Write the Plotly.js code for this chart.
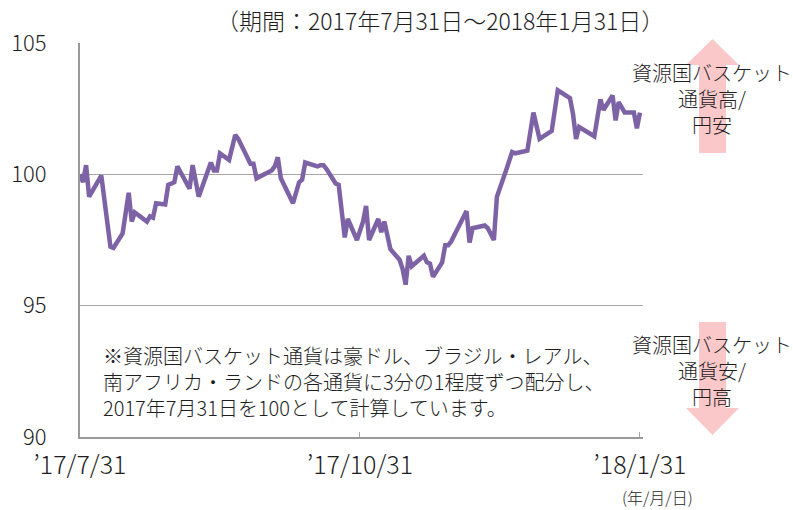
<!DOCTYPE html>
<html>
<head>
<meta charset="utf-8">
<script src="https://cdn.plot.ly/plotly-3.0.1.min.js"></script>
<style>
  html, body { margin: 0; padding: 0; background: #ffffff; }
  #chart { width: 793px; height: 510px; }
</style>
</head>
<body>
<div id="chart"></div>
<script>
// Resource-country basket currency index (2017-07-31 = 100)
const dates = [
  '2017-07-31','2017-08-01','2017-08-02','2017-08-03','2017-08-07','2017-08-10','2017-08-11','2017-08-14',
  '2017-08-16','2017-08-17','2017-08-18','2017-08-22','2017-08-23','2017-08-24','2017-08-25','2017-08-28',
  '2017-08-29','2017-08-31','2017-09-01','2017-09-05','2017-09-06','2017-09-08','2017-09-12','2017-09-13',
  '2017-09-14','2017-09-15','2017-09-18','2017-09-20','2017-09-21','2017-09-25','2017-09-26','2017-09-27',
  '2017-10-02','2017-10-03','2017-10-04','2017-10-05','2017-10-09','2017-10-11','2017-10-12','2017-10-13',
  '2017-10-17','2017-10-18','2017-10-19','2017-10-20','2017-10-23','2017-10-24','2017-10-26','2017-10-27',
  '2017-10-30','2017-11-01','2017-11-02','2017-11-03','2017-11-06','2017-11-07','2017-11-08','2017-11-10',
  '2017-11-13','2017-11-14','2017-11-15','2017-11-16','2017-11-17','2017-11-21','2017-11-22','2017-11-23',
  '2017-11-24','2017-11-27','2017-11-28','2017-11-29','2017-11-30','2017-12-05','2017-12-06','2017-12-07',
  '2017-12-11','2017-12-12','2017-12-14','2017-12-15','2017-12-18','2017-12-20','2017-12-21','2017-12-25',
  '2017-12-27','2017-12-29','2018-01-02','2018-01-04','2018-01-08','2018-01-09','2018-01-10','2018-01-11',
  '2018-01-16','2018-01-18','2018-01-19','2018-01-22','2018-01-23','2018-01-24','2018-01-26','2018-01-29',
  '2018-01-30','2018-01-31'
];
const values = [
  100.0, 99.7, 100.35, 99.15, 99.95, 97.25, 97.2, 97.75,
  99.3, 98.2, 98.55, 98.2, 98.4, 98.35, 98.9, 98.85,
  99.6, 99.7, 100.3, 99.45, 100.35, 99.15, 100.45, 100.15,
  100.15, 100.8, 100.55, 101.5, 101.35, 100.4, 100.4, 99.85,
  100.15, 100.3, 100.65, 99.85, 98.9, 99.7, 99.8, 100.45,
  100.3, 100.35, 100.35, 100.2, 99.65, 99.6, 97.6, 98.3,
  97.5, 98.2, 98.8, 97.5, 98.3, 97.8, 98.2, 97.15,
  96.75, 96.4, 95.8, 96.9, 96.5, 96.9, 96.65, 96.6,
  96.1, 96.65, 97.3, 97.3, 97.45, 98.6, 97.4, 97.95,
  98.05, 97.95, 97.5, 99.15, 100.15, 100.85, 100.8, 100.9,
  102.35, 101.35, 101.65, 103.2, 102.9, 102.3, 101.35, 101.8,
  101.45, 102.85, 102.45, 103.0, 102.05, 102.75, 102.35, 102.35,
  101.75, 102.35
];

const xTickVals = ['2017-07-31', '2017-10-31', '2018-01-31'];
const xTickText = ['’17/7/31', '’17/10/31', '’18/1/31'];
const yTickVals = [90, 95, 100, 105];

const titleText = '（期間：2017年7月31日～2018年1月31日）';
const noteLines = [
  '※資源国バスケット通貨は豪ドル、ブラジル・レアル、',
  '南アフリカ・ランドの各通貨に3分の1程度ずつ配分し、',
  '2017年7月31日を100として計算しています。'
];
const upLabel = ['資源国バスケット', '通貨高/', '円安'];
const downLabel = ['資源国バスケット', '通貨安/', '円高'];
const unitLabel = '(年/月/日)';

const FONT = '"Noto Sans CJK JP", "Noto Sans", sans-serif';
const TXT = '#1e1e1e';
const PINK = '#fbc8ca';
const GRID = '#a6a6a6';

const trace = {
  x: dates,
  y: values,
  type: 'scatter',
  mode: 'lines',
  line: { color: '#7d63a6', width: 4.5 },
  hoverinfo: 'skip'
};

// arrow geometry (paper coordinates)
const ax0 = 1.0764, ax1 = 1.1705, sx0 = 1.0995, sx1 = 1.1474, axc = 1.1234;
const upPath = `M ${sx0} 0.7208 L ${sx0} 0.9442 L ${ax0} 0.9442 L ${axc} 1.0102 L ${ax1} 0.9442 L ${sx1} 0.9442 L ${sx1} 0.7208 Z`;
const downPath = `M ${sx0} 0.2919 L ${sx0} 0.0736 L ${ax0} 0.0736 L ${axc} 0.0051 L ${ax1} 0.0736 L ${sx1} 0.0736 L ${sx1} 0.2919 Z`;

function f(size) { return { family: FONT, size: size, color: TXT, weight: 300 }; }

const layout = {
  width: 793,
  height: 510,
  margin: { l: 80, r: 150, t: 43, b: 73 },
  paper_bgcolor: '#ffffff',
  plot_bgcolor: '#ffffff',
  showlegend: false,
  font: { family: FONT, color: TXT },
  xaxis: {
    type: 'date',
    range: ['2017-07-31', '2018-02-01'],
    tickvals: xTickVals,
    ticktext: xTickText,
    ticks: 'inside',
    ticklen: 5,
    tickcolor: GRID,
    tickwidth: 1,
    showgrid: false,
    zeroline: false,
    showline: true,
    linecolor: '#999999',
    linewidth: 2,
    tickfont: f(25),
    ticklabelstandoff: 5
  },
  yaxis: {
    range: [90, 105],
    tickvals: yTickVals,
    ticks: '',
    showgrid: true,
    gridcolor: GRID,
    gridwidth: 1.2,
    zeroline: false,
    showline: true,
    linecolor: '#999999',
    linewidth: 2,
    tickfont: f(22),
    ticklabelstandoff: 27
  },
  shapes: [
    { type: 'path', xref: 'paper', yref: 'paper', path: upPath, fillcolor: PINK, line: { width: 0 }, layer: 'below' },
    { type: 'path', xref: 'paper', yref: 'paper', path: downPath, fillcolor: PINK, line: { width: 0 }, layer: 'below' }
  ],
  annotations: [
    { text: titleText, xref: 'paper', yref: 'paper', x: 1.040, y: 1.058, xanchor: 'right', yanchor: 'middle',
      showarrow: false, font: f(23) },
    { text: noteLines.join('<br>'), xref: 'paper', yref: 'paper', x: 0.038, y: 0.141, xanchor: 'left', yanchor: 'middle',
      align: 'left', showarrow: false, font: f(20) },
    { text: upLabel.join('<br>'), xref: 'paper', yref: 'paper', x: 1.1234, y: 0.858, xanchor: 'center', yanchor: 'middle',
      align: 'center', showarrow: false, font: f(20) },
    { text: downLabel.join('<br>'), xref: 'paper', yref: 'paper', x: 1.1234, y: 0.168, xanchor: 'center', yanchor: 'middle',
      align: 'center', showarrow: false, font: f(20) },
    { text: unitLabel, xref: 'paper', yref: 'paper', x: 1.0266, y: -0.152, xanchor: 'center', yanchor: 'middle',
      showarrow: false, font: f(16) }
  ]
};

Plotly.newPlot('chart', [trace], layout, { displayModeBar: false, staticPlot: true });
</script>
</body>
</html>
